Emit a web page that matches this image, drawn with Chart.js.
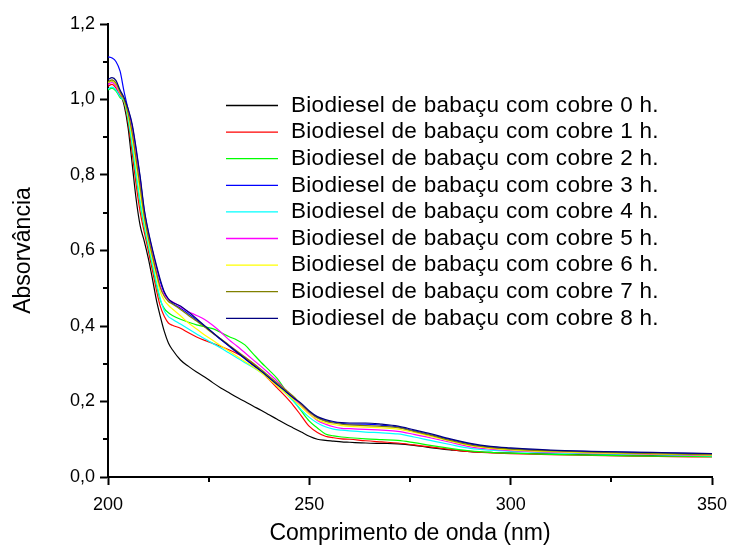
<!DOCTYPE html>
<html>
<head>
<meta charset="utf-8">
<title>Absorvância - biodiesel de babaçu com cobre</title>
<script src="https://cdn.jsdelivr.net/npm/chart.js@4.4.1/dist/chart.umd.min.js"></script>
<style>
  html, body { margin: 0; padding: 0; background: #fff; }
  canvas { display: block; }
</style>
</head>
<body>
<canvas id="uvChart" width="731" height="547"></canvas>
<script>
// wavelength grid (nm) shared by every spectrum
const wavelengths = [200, 201, 202, 203, 204, 205, 206, 207, 208, 209, 210, 211, 212, 213, 214, 215, 216,
  218, 220, 222, 224, 226, 228, 230, 232, 234, 236, 238, 240, 242, 244, 246, 248, 250, 252, 254, 256, 258, 260,
  264, 268, 272, 276, 280, 285, 290, 295, 300, 310, 320, 330, 340, 350];

// absorbance per contact time with copper
const cobre0h = [1.045, 1.050, 1.040, 1.020, 0.985, 0.925, 0.830, 0.735, 0.665, 0.625, 0.580, 0.527, 0.470, 0.425, 0.385, 0.355, 0.337,
  0.310, 0.293, 0.278, 0.265, 0.250, 0.236, 0.224, 0.211, 0.200, 0.188, 0.177, 0.165, 0.153, 0.141, 0.130, 0.119, 0.108, 0.100, 0.097, 0.095, 0.093, 0.092,
  0.090, 0.089, 0.088, 0.084, 0.078, 0.072, 0.067, 0.065, 0.063, 0.061, 0.059, 0.058, 0.056, 0.055];
const cobre1h = [1.035, 1.040, 1.030, 1.010, 0.991, 0.939, 0.859, 0.773, 0.701, 0.649, 0.600, 0.549, 0.496, 0.452, 0.425, 0.408, 0.402,
  0.394, 0.382, 0.371, 0.362, 0.354, 0.346, 0.337, 0.327, 0.316, 0.300, 0.279, 0.258, 0.236, 0.214, 0.190, 0.162, 0.134, 0.118, 0.108, 0.104, 0.101, 0.100,
  0.096, 0.093, 0.090, 0.085, 0.080, 0.073, 0.067, 0.064, 0.062, 0.059, 0.057, 0.055, 0.054, 0.053];
const cobre2h = [1.025, 1.030, 1.022, 1.005, 0.994, 0.948, 0.877, 0.796, 0.723, 0.663, 0.612, 0.562, 0.511, 0.468, 0.446, 0.435, 0.428,
  0.418, 0.410, 0.403, 0.398, 0.393, 0.383, 0.372, 0.363, 0.350, 0.327, 0.304, 0.283, 0.261, 0.231, 0.203, 0.175, 0.148, 0.130, 0.114, 0.109, 0.106, 0.104,
  0.101, 0.099, 0.097, 0.091, 0.084, 0.076, 0.069, 0.065, 0.063, 0.060, 0.058, 0.056, 0.055, 0.054];
const cobre3h = [1.113, 1.110, 1.100, 1.075, 1.020, 0.974, 0.930, 0.864, 0.790, 0.706, 0.649, 0.601, 0.557, 0.517, 0.487, 0.470, 0.460,
  0.447, 0.432, 0.416, 0.399, 0.382, 0.364, 0.347, 0.330, 0.313, 0.296, 0.280, 0.262, 0.244, 0.227, 0.209, 0.193, 0.173, 0.157, 0.149, 0.145, 0.142, 0.140,
  0.140, 0.137, 0.132, 0.122, 0.112, 0.099, 0.087, 0.079, 0.075, 0.070, 0.067, 0.065, 0.063, 0.061];
const cobre4h = [1.028, 1.033, 1.025, 1.008, 0.995, 0.950, 0.882, 0.802, 0.730, 0.668, 0.616, 0.566, 0.516, 0.472, 0.440, 0.425, 0.418,
  0.405, 0.392, 0.379, 0.366, 0.354, 0.342, 0.329, 0.316, 0.303, 0.291, 0.277, 0.262, 0.244, 0.223, 0.201, 0.178, 0.158, 0.143, 0.133, 0.127, 0.124, 0.122,
  0.119, 0.117, 0.114, 0.106, 0.097, 0.086, 0.076, 0.071, 0.068, 0.064, 0.062, 0.060, 0.058, 0.056];
const cobre5h = [1.040, 1.045, 1.035, 1.015, 1.000, 0.967, 0.917, 0.847, 0.773, 0.696, 0.640, 0.592, 0.547, 0.505, 0.482, 0.470, 0.464,
  0.451, 0.438, 0.428, 0.417, 0.402, 0.384, 0.364, 0.347, 0.329, 0.311, 0.293, 0.274, 0.254, 0.232, 0.210, 0.189, 0.168, 0.150, 0.140, 0.133, 0.129, 0.128,
  0.126, 0.124, 0.121, 0.113, 0.104, 0.092, 0.080, 0.074, 0.070, 0.066, 0.063, 0.061, 0.059, 0.057];
const cobre6h = [1.045, 1.050, 1.040, 1.018, 0.998, 0.959, 0.900, 0.825, 0.752, 0.682, 0.628, 0.579, 0.532, 0.490, 0.468, 0.455, 0.445,
  0.427, 0.408, 0.392, 0.376, 0.362, 0.348, 0.334, 0.320, 0.306, 0.292, 0.277, 0.259, 0.241, 0.223, 0.205, 0.186, 0.166, 0.152, 0.144, 0.139, 0.136, 0.134,
  0.132, 0.130, 0.127, 0.118, 0.108, 0.095, 0.083, 0.076, 0.072, 0.067, 0.064, 0.062, 0.060, 0.058];
const cobre7h = [1.047, 1.052, 1.043, 1.020, 1.000, 0.964, 0.912, 0.840, 0.767, 0.691, 0.636, 0.588, 0.542, 0.501, 0.478, 0.465, 0.458,
  0.444, 0.428, 0.413, 0.397, 0.381, 0.366, 0.350, 0.334, 0.318, 0.302, 0.285, 0.267, 0.249, 0.232, 0.214, 0.192, 0.172, 0.157, 0.148, 0.143, 0.140, 0.138,
  0.136, 0.134, 0.131, 0.121, 0.111, 0.097, 0.085, 0.078, 0.074, 0.069, 0.066, 0.063, 0.061, 0.059];
const cobre8h = [1.053, 1.058, 1.050, 1.025, 1.005, 0.975, 0.935, 0.870, 0.795, 0.710, 0.652, 0.605, 0.562, 0.522, 0.490, 0.472, 0.463,
  0.453, 0.437, 0.419, 0.401, 0.383, 0.365, 0.348, 0.331, 0.314, 0.297, 0.281, 0.263, 0.245, 0.228, 0.210, 0.195, 0.175, 0.160, 0.152, 0.147, 0.144, 0.143,
  0.143, 0.140, 0.135, 0.125, 0.115, 0.101, 0.089, 0.081, 0.077, 0.071, 0.068, 0.066, 0.064, 0.062];

const seriesValues = [cobre0h, cobre1h, cobre2h, cobre3h, cobre4h, cobre5h, cobre6h, cobre7h, cobre8h];
const seriesLabels = [
  "Biodiesel de babaçu com cobre 0 h.",
  "Biodiesel de babaçu com cobre 1 h.",
  "Biodiesel de babaçu com cobre 2 h.",
  "Biodiesel de babaçu com cobre 3 h.",
  "Biodiesel de babaçu com cobre 4 h.",
  "Biodiesel de babaçu com cobre 5 h.",
  "Biodiesel de babaçu com cobre 6 h.",
  "Biodiesel de babaçu com cobre 7 h.",
  "Biodiesel de babaçu com cobre 8 h."
];
const seriesColors = ["#000000", "#ff0000", "#00ff00", "#0000ff", "#00ffff", "#ff00ff", "#ffff00", "#808000", "#000080"];

// axis ticks
const xMajorTicks = [200, 250, 300, 350];
const xMinorTicks = [225, 275, 325];
const yMajorTicks = [0, 0.2, 0.4, 0.6, 0.8, 1.0, 1.2];
const yMinorTicks = [0.1, 0.3, 0.5, 0.7, 0.9, 1.1];

const FONT = "'Liberation Sans', Arial, sans-serif";

// short ticks between the labelled ones
const minorTicks = {
  id: "minorTicks",
  afterDraw(chart) {
    const ctx = chart.ctx;
    const area = chart.chartArea;
    const xs = chart.scales.x;
    const ys = chart.scales.y;
    ctx.save();
    ctx.strokeStyle = "#000";
    ctx.lineWidth = 2;
    ctx.beginPath();
    xMinorTicks.forEach(v => {
      const px = Math.round(xs.getPixelForValue(v));
      ctx.moveTo(px, area.bottom);
      ctx.lineTo(px, area.bottom + 5);
    });
    yMinorTicks.forEach(v => {
      const py = Math.round(ys.getPixelForValue(v));
      ctx.moveTo(area.left - 5, py);
      ctx.lineTo(area.left, py);
    });
    ctx.stroke();
    ctx.restore();
  }
};

// legend inside the plot, no frame
const inlineLegend = {
  id: "inlineLegend",
  afterDraw(chart) {
    const ctx = chart.ctx;
    ctx.save();
    ctx.font = "22.5px " + FONT;
    ctx.letterSpacing = "0.3px";
    ctx.textBaseline = "middle";
    ctx.textAlign = "left";
    chart.data.datasets.forEach((ds, i) => {
      const y = 105.5 + i * 26.6;
      ctx.strokeStyle = ds.borderColor;
      ctx.lineWidth = 1.3;
      ctx.beginPath();
      ctx.moveTo(226, y);
      ctx.lineTo(278, y);
      ctx.stroke();
      ctx.fillStyle = "#000";
      ctx.fillText(ds.label, 291, y);
    });
    ctx.restore();
  }
};

const datasets = seriesValues.map((vals, i) => ({
  label: seriesLabels[i],
  data: wavelengths.map((w, k) => ({ x: w, y: vals[k] })),
  borderColor: seriesColors[i],
  backgroundColor: seriesColors[i],
  borderWidth: 1.2,
  pointRadius: 0,
  cubicInterpolationMode: "monotone",
  fill: false,
  order: seriesValues.length - 1 - i
}));

new Chart(document.getElementById("uvChart"), {
  type: "line",
  data: { datasets },
  options: {
    responsive: false,
    animation: false,
    layout: { padding: { top: 24, right: 19, bottom: 0, left: 0 } },
    plugins: {
      legend: { display: false },
      tooltip: { enabled: false }
    },
    scales: {
      x: {
        type: "linear",
        min: 200,
        max: 350,
        afterBuildTicks: s => { s.ticks = xMajorTicks.map(v => ({ value: v })); },
        // fixed axis band; edge labels may overhang into the layout padding
        afterFit: s => { s.height = 70; s.paddingLeft = 0; s.paddingRight = 0; },
        border: { display: true, color: "#000", width: 2 },
        grid: { drawOnChartArea: false, drawTicks: true, tickLength: 8, tickWidth: 2, tickColor: "#000" },
        ticks: { color: "#000", padding: 9, font: { family: FONT, size: 18 } },
        title: {
          display: true,
          text: "Comprimento de onda (nm)",
          color: "#000",
          font: { family: FONT, size: 23 },
          padding: { top: 0, bottom: 0 }
        }
      },
      y: {
        min: 0,
        max: 1.2,
        afterBuildTicks: s => { s.ticks = yMajorTicks.map(v => ({ value: v })); },
        afterFit: s => { s.width = 108; },
        border: { display: true, color: "#000", width: 2 },
        grid: { drawOnChartArea: false, drawTicks: true, tickLength: 8, tickWidth: 2, tickColor: "#000" },
        ticks: {
          color: "#000",
          padding: 5,
          font: { family: FONT, size: 18 },
          callback: v => v.toFixed(1).replace(".", ",")
        },
        title: {
          display: true,
          text: "Absorvância",
          color: "#000",
          font: { family: FONT, size: 23 },
          padding: { top: 10, bottom: 0 }
        }
      }
    }
  },
  plugins: [minorTicks, inlineLegend]
});
</script>
</body>
</html>
